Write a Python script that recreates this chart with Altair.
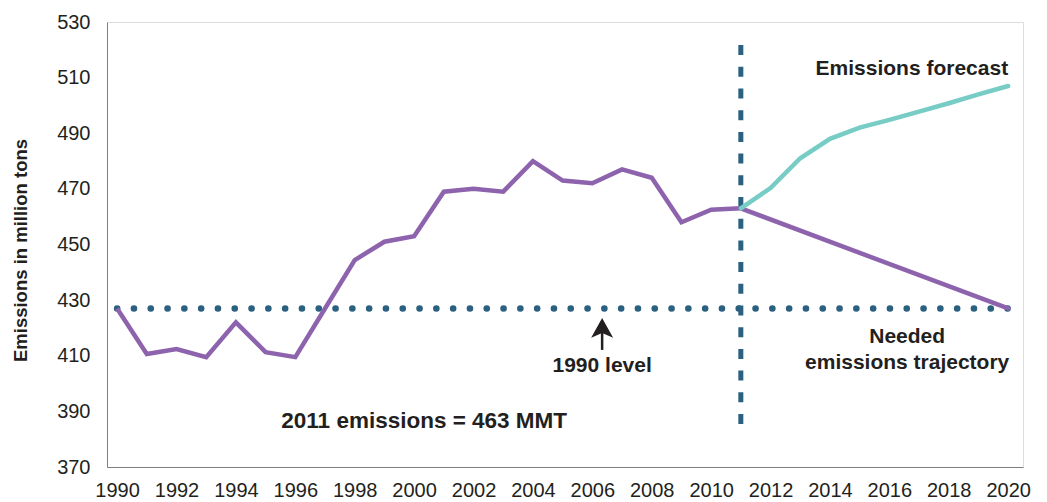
import altair as alt
import pandas as pd

# Historical emissions (million metric tons)
hist_years = list(range(1990, 2012))
hist_values = [427, 410.6, 412.4, 409.5, 422, 411.3, 409.5, 427, 444.4, 451, 453,
               469, 470, 469, 480, 473, 472, 477, 474, 458, 462.5, 463]

# Forecast emissions
fc_years = list(range(2011, 2021))
fc_values = [463, 470.3, 481, 488, 492, 494.8, 497.8, 500.8, 504, 507]

# Needed trajectory
traj_years = [2011, 2020]
traj_values = [463, 427]

level_1990 = 427
split_year = 2011

y_ticks = list(range(370, 531, 20))
x_ticks = list(range(1990, 2021, 2))

PURPLE = "#8e63ad"
TEAL = "#77cdc5"
DARK = "#2a6080"
INK = "#231f20"
FONT = "Liberation Sans"

hist_df = pd.DataFrame({"year": hist_years, "value": hist_values})
fc_df = pd.DataFrame({"year": fc_years, "value": fc_values})
traj_df = pd.DataFrame({"year": traj_years, "value": traj_values})

xscale = alt.Scale(domain=[1989.66, 2020.5], nice=False, zero=False)
yscale = alt.Scale(domain=[370, 530], nice=False, zero=False)

X = alt.X("year:Q", scale=xscale,
          axis=alt.Axis(values=x_ticks, format="d", title=None, labelPadding=13,
                        labelFontSize=20, labelColor=INK, ticks=False,
                        grid=False, domainColor="#7f7f7f", labelFont=FONT,
                        labelFlush=False, labelOverlap=False))
Y = alt.Y("value:Q", scale=yscale,
          axis=alt.Axis(values=y_ticks, title="Emissions in million tons",
                        labelPadding=17, labelFontSize=20, labelColor=INK,
                        ticks=False, grid=False, domainColor="#7f7f7f",
                        labelFont=FONT, titleFont=FONT, titleFontSize=18.5,
                        titleFontWeight="bold", titleColor=INK,
                        titleX=-87, titleY=228, titleAngle=270,
                        titleBaseline="middle", titleAlign="center"))

# 1990 level dotted line
level_df = pd.DataFrame({"year": [1990], "year2": [2020], "value": [level_1990]})
level = alt.Chart(level_df).mark_rule(
    color=DARK, strokeWidth=6.5, strokeDash=[0.1, 16.7], strokeCap="round"
).encode(x=X, x2="year2:Q", y=Y)

# vertical dashed line
split_df = pd.DataFrame({"year": [split_year], "value": [521.7], "value2": [384]})
split = alt.Chart(split_df).mark_rule(
    color=DARK, strokeWidth=5, strokeDash=[10, 11.7]
).encode(x=X, y=Y, y2="value2:Q")

hist = alt.Chart(hist_df).mark_line(color=PURPLE, strokeWidth=4.5, strokeJoin="miter").encode(x=X, y=Y)
traj = alt.Chart(traj_df).mark_line(color=PURPLE, strokeWidth=4.5, strokeCap="round").encode(x=X, y=Y)
fc = alt.Chart(fc_df).mark_line(color=TEAL, strokeWidth=4.5, strokeCap="round").encode(x=X, y=Y)

# annotations
ann_right = pd.DataFrame({"year": [2020.0], "value": [510.9], "label": ["Emissions forecast"]})
ann_center = pd.DataFrame({
    "year": [2016.6, 2016.6, 2006.33],
    "value": [416.7, 407.4, 406.3],
    "label": ["Needed", "emissions trajectory", "1990 level"],
})
ann_big = pd.DataFrame({"year": [2000.34], "value": [386.5], "label": ["2011 emissions = 463 MMT"]})

t_right = alt.Chart(ann_right).mark_text(
    align="right", baseline="alphabetic", font=FONT, fontSize=21, fontWeight="bold", color=INK
).encode(x=X, y=Y, text="label:N")
t_center = alt.Chart(ann_center).mark_text(
    align="center", baseline="middle", font=FONT, fontSize=21, fontWeight="bold", color=INK
).encode(x=X, y=Y, text="label:N")
t_big = alt.Chart(ann_big).mark_text(
    align="center", baseline="middle", font=FONT, fontSize=22.5, fontWeight="bold", color=INK
).encode(x=X, y=Y, text="label:N")

# arrow pointing to the 1990 level
shaft_df = pd.DataFrame({"year": [2006.33], "value": [412.1], "value2": [418.5]})
shaft = alt.Chart(shaft_df).mark_rule(color=INK, strokeWidth=2.5).encode(x=X, y=Y, y2="value2:Q")
head_df = pd.DataFrame({"year": [2006.33], "value": [419.6]})
head = alt.Chart(head_df).mark_point(
    shape="M0,-1 L1,0.8 L0,0.35 L-1,0.8 Z", size=484, filled=True, color=INK, opacity=1
).encode(x=X, y=Y)

chart = alt.layer(level, split, hist, traj, fc, t_right, t_center, t_big, shaft, head).properties(
    width=916, height=445,
    autosize=alt.AutoSizeParams(type="none"),
    padding={"left": 99, "top": 14, "right": 16, "bottom": 32},
).configure_view(stroke="#7f7f7f", strokeWidth=1).configure(background="white")

chart.save("out.html", embed_options={"renderer": "svg", "actions": False})
